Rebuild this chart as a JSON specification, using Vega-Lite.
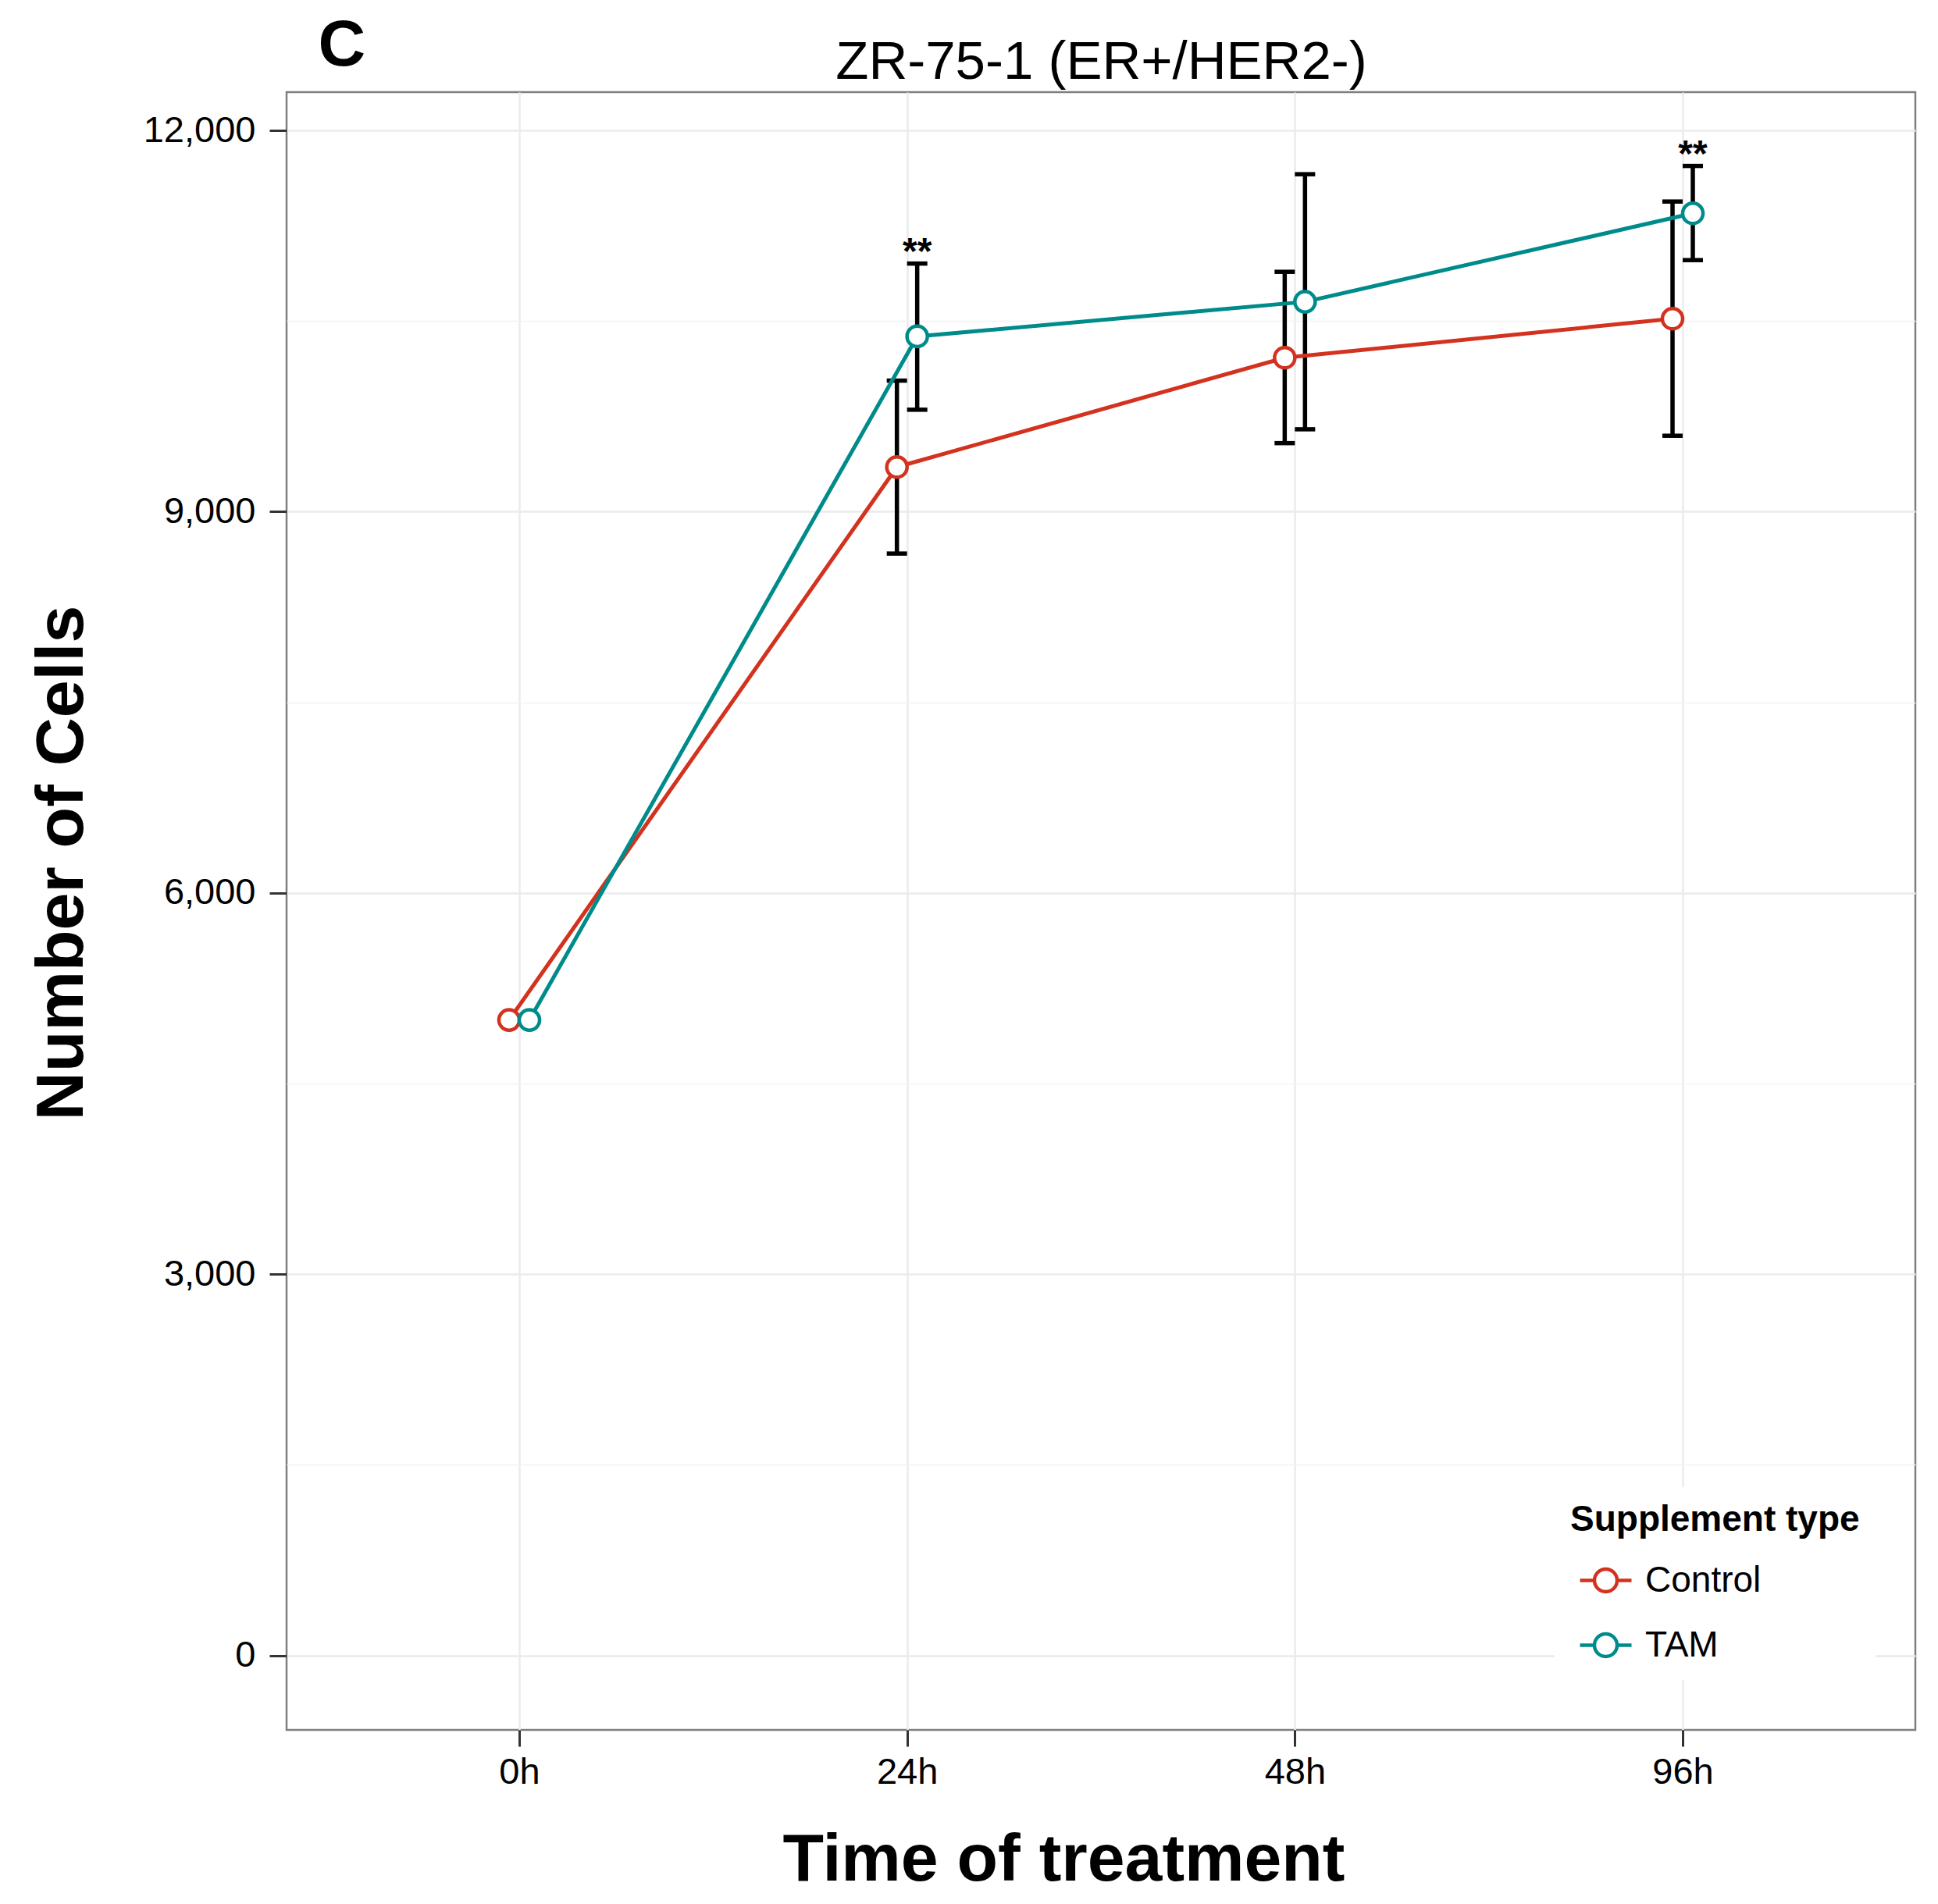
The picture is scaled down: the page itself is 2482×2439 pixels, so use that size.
{
  "$schema": "https://vega.github.io/schema/vega-lite/v6.json",
  "width": 2086,
  "height": 2098,
  "autosize": {"type": "none"},
  "padding": {"left": 367, "top": 118, "right": 29, "bottom": 223},
  "background": "white",
  "config": {
    "font": "Liberation Sans",
    "view": {"stroke": "#7F7F7F", "strokeWidth": 2.5}
  },
  "data": {
    "values": [
      {"time": "0h", "group": "Control", "mean": 5000, "lo": null, "hi": null, "sig": ""},
      {"time": "24h", "group": "Control", "mean": 9351, "lo": 8670, "hi": 10031, "sig": ""},
      {"time": "48h", "group": "Control", "mean": 10211, "lo": 9539, "hi": 10887, "sig": ""},
      {"time": "96h", "group": "Control", "mean": 10518, "lo": 9597, "hi": 11440, "sig": ""},
      {"time": "0h", "group": "TAM", "mean": 5000, "lo": null, "hi": null, "sig": ""},
      {"time": "24h", "group": "TAM", "mean": 10379, "lo": 9802, "hi": 10952, "sig": "**"},
      {"time": "48h", "group": "TAM", "mean": 10651, "lo": 9648, "hi": 11655, "sig": ""},
      {"time": "96h", "group": "TAM", "mean": 11347, "lo": 10979, "hi": 11720, "sig": "**"}
    ]
  },
  "encoding": {
    "x": {"field": "time", "type": "ordinal", "sort": ["0h", "24h", "48h", "96h"], "scale": {"type": "point", "padding": 0.6}, "axis": null},
    "xOffset": {"field": "group", "type": "nominal", "scale": {"type": "point", "range": [-13, 13], "padding": 0}}
  },
  "resolve": {"axis": {"x": "independent", "y": "independent"}},
  "layer": [
    {
      "mark": {"type": "rule", "color": "black", "strokeWidth": 5.5},
      "encoding": {
        "x": {
          "field": "time", "type": "ordinal", "sort": ["0h", "24h", "48h", "96h"],
          "scale": {"type": "point", "padding": 0.6},
          "axis": {
            "title": "Time of treatment",
            "titleFontSize": 86,
            "titleFontWeight": "bold",
            "titleColor": "black",
            "titleX": 995,
            "titleY": 192,
            "titleAlign": "center",
            "titleBaseline": "alphabetic",
            "labelFontSize": 47,
            "labelColor": "black",
            "labelAngle": 0,
            "labelPadding": 10,
            "tickSize": 21,
            "tickWidth": 3,
            "tickColor": "#333333",
            "domain": false,
            "grid": true,
            "gridColor": "#EBEBEB",
            "gridWidth": 2.5
          }
        },
        "y": {
          "field": "lo", "type": "quantitative",
          "scale": {"domain": [-586, 12301], "nice": false, "zero": false},
          "axis": {
            "title": "Number of Cells",
            "titleFontSize": 86,
            "titleFontWeight": "bold",
            "titleColor": "black",
            "titleAngle": -90,
            "titleX": -262,
            "titleY": 987,
            "titleAlign": "center",
            "titleBaseline": "alphabetic",
            "values": [0, 1500, 3000, 4500, 6000, 7500, 9000, 10500, 12000],
            "labelExpr": "datum.value % 3000 === 0 ? format(datum.value, ',') : ''",
            "labelFontSize": 47,
            "labelColor": "black",
            "labelPadding": 18,
            "tickSize": 22,
            "tickWidth": 3,
            "tickColor": "#333333",
            "tickOpacity": {"condition": {"test": "datum.value % 3000 !== 0", "value": 0}, "value": 1},
            "domain": false,
            "grid": true,
            "gridColor": {"condition": {"test": "datum.value % 3000 !== 0", "value": "#F3F3F3"}, "value": "#EBEBEB"},
            "gridWidth": {"condition": {"test": "datum.value % 3000 !== 0", "value": 1.5}, "value": 2.5}
          }
        },
        "y2": {"field": "hi"}
      }
    },
    {
      "mark": {"type": "tick", "color": "black", "orient": "horizontal", "size": 26, "thickness": 5.5, "opacity": 1},
      "encoding": {
        "y": {"field": "lo", "type": "quantitative", "axis": null}
      }
    },
    {
      "mark": {"type": "tick", "color": "black", "orient": "horizontal", "size": 26, "thickness": 5.5, "opacity": 1},
      "encoding": {
        "y": {"field": "hi", "type": "quantitative", "axis": null}
      }
    },
    {
      "mark": {"type": "line", "strokeWidth": 5},
      "encoding": {
        "y": {"field": "mean", "type": "quantitative", "axis": null},
        "stroke": {
          "field": "group", "type": "nominal",
          "scale": {"domain": ["Control", "TAM"], "range": ["#D2321E", "#008B8B"]},
          "legend": {
            "title": "Supplement type",
            "orient": "none",
            "legendX": 1624,
            "legendY": 1787,
            "padding": 20,
            "fillColor": "white",
            "titleFontSize": 46,
            "titleFontWeight": "bold",
            "titleColor": "black",
            "titleLimit": 1000,
            "titlePadding": 18,
            "labelFontSize": 46,
            "labelColor": "black",
            "labelLimit": 1000,
            "labelOffset": 15,
            "rowPadding": 23,
            "symbolOffset": 10,
            "symbolType": "M-1,0L-0.44,0M0.44,0L1,0M-0.44,0A0.44,0.44,0,1,1,0.44,0A0.44,0.44,0,1,1,-0.44,0Z",
            "symbolSize": 4356,
            "symbolStrokeWidth": 4.5,
            "symbolFillColor": "white",
            "symbolOpacity": 1
          }
        }
      }
    },
    {
      "mark": {"type": "point", "shape": "circle", "size": 680, "fill": "white", "filled": true, "strokeWidth": 4.5, "opacity": 1, "fillOpacity": 1, "strokeOpacity": 1},
      "encoding": {
        "y": {"field": "mean", "type": "quantitative", "axis": null},
        "stroke": {"field": "group", "type": "nominal"}
      }
    },
    {
      "mark": {"type": "text", "fontSize": 48, "fontWeight": "bold", "color": "black", "baseline": "alphabetic", "align": "center"},
      "encoding": {
        "x": {
          "field": "time", "type": "ordinal", "sort": ["0h", "24h", "48h", "96h"],
          "scale": {"type": "point", "padding": 0.6},
          "axis": {
            "orient": "top",
            "title": "C",
            "titleFontSize": 84,
            "titleFontWeight": "bold",
            "titleColor": "black",
            "titleX": 40,
            "titleY": -35,
            "titleAlign": "left",
            "titleAngle": 0,
            "titleBaseline": "alphabetic",
            "labels": false,
            "ticks": false,
            "domain": false,
            "grid": false
          }
        },
        "y": {
          "field": "hi", "type": "quantitative",
          "axis": {
            "orient": "right",
            "title": "ZR-75-1 (ER+/HER2-)",
            "titleFontSize": 69,
            "titleFontWeight": "normal",
            "titleColor": "black",
            "titleAngle": 0,
            "titleX": -1043,
            "titleY": -18,
            "titleAlign": "center",
            "titleBaseline": "alphabetic",
            "labels": false,
            "ticks": false,
            "domain": false,
            "grid": false
          }
        },
        "text": {"field": "sig"}
      }
    }
  ]
}
